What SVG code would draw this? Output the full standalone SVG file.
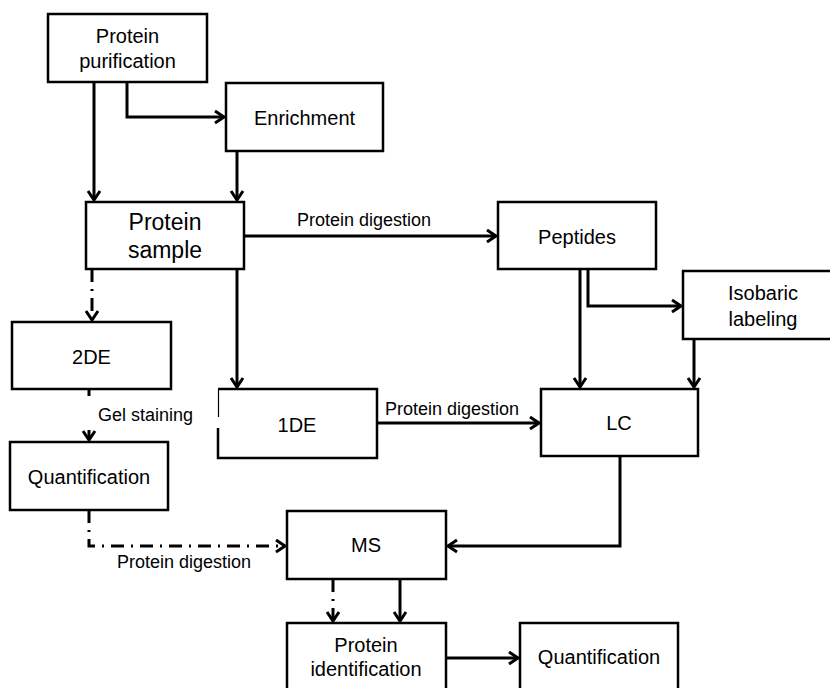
<svg xmlns="http://www.w3.org/2000/svg" width="830" height="688" viewBox="0 0 830 688">
<style>
.box{fill:#fff;stroke:#000;stroke-width:2.5}
.edge{fill:none;stroke:#000;stroke-width:2.5}
.ln{fill:none;stroke:#000;stroke-width:3}
.dd{fill:none;stroke:#000;stroke-width:3;stroke-dasharray:13 7 2 7}
.t{font-family:"Liberation Sans",Arial,sans-serif;font-size:20px;fill:#000;text-anchor:middle}
.big{font-size:23px}
.lbl{font-family:"Liberation Sans",Arial,sans-serif;font-size:18px;fill:#000}
</style>
<defs>
<marker id="arr" viewBox="-11 -8 13 16" markerWidth="13" markerHeight="16" refX="0" refY="0" orient="auto" markerUnits="userSpaceOnUse">
<path d="M-9,-6 L0,0 L-9,6" fill="none" stroke="#000" stroke-width="3"/>
</marker>
</defs>
<rect width="830" height="688" fill="#fff"/>
<g id="connectors">
<path class="ln" d="M94,82 V200" marker-end="url(#arr)"/>
<path class="ln" d="M127,82 V117 H224" marker-end="url(#arr)"/>
<path class="ln" d="M237,151 V200" marker-end="url(#arr)"/>
<path class="ln" d="M244,236 H496" marker-end="url(#arr)"/>
<path class="ln" d="M237,269 V387" marker-end="url(#arr)"/>
<path class="dd" d="M92,269 V320" marker-end="url(#arr)"/>
<path class="ln" d="M89,389 V396"/>
<path class="ln" d="M89,430 V440" marker-end="url(#arr)"/>
<path class="ln" d="M580,269 V387" marker-end="url(#arr)"/>
<path class="ln" d="M588,269 V306 H681" marker-end="url(#arr)"/>
<path class="ln" d="M694,339 V387" marker-end="url(#arr)"/>
<path class="ln" d="M377,423 H539" marker-end="url(#arr)"/>
<path class="ln" d="M620,456 V546 H448" marker-end="url(#arr)"/>
<path class="dd" d="M89,510 V546 H285" marker-end="url(#arr)"/>
<path class="ln" d="M400,579 V621" marker-end="url(#arr)"/>
<path class="dd" d="M333,579 V621" marker-end="url(#arr)"/>
<path class="ln" d="M446,658 H518" marker-end="url(#arr)"/>
<text class="lbl" x="297" y="226">Protein digestion</text>
<text class="lbl" x="385" y="415">Protein digestion</text>
<text class="lbl" x="98" y="421">Gel staining</text>
<text class="lbl" x="117" y="568">Protein digestion</text>
</g>
<g id="protein-purification">
<rect class="box" x="48" y="14" width="159" height="68"/>
<text class="t" x="127.5" y="43">Protein</text>
<text class="t" x="127.5" y="68">purification</text>
</g>
<g id="enrichment">
<rect class="box" x="226" y="83" width="157" height="68"/>
<text class="t" x="304.5" y="125">Enrichment</text>
</g>
<g id="protein-sample">
<rect class="box" x="86" y="202" width="158" height="67"/>
<text class="t big" x="165" y="230">Protein</text>
<text class="t big" x="165" y="258">sample</text>
</g>
<g id="peptides">
<rect class="box" x="498" y="202" width="158" height="67"/>
<text class="t" x="577" y="244">Peptides</text>
</g>
<g id="isobaric-labeling">
<rect class="box" x="683" y="271" width="160" height="68"/>
<text class="t" x="763" y="300">Isobaric</text>
<text class="t" x="763" y="326">labeling</text>
</g>
<g id="twoDE">
<rect class="box" x="12" y="322" width="159" height="67"/>
<text class="t" x="91.5" y="364">2DE</text>
</g>
<g id="oneDE">
<path class="edge" d="M218,389 H377 V458 H218 V428"/>
<path fill="none" stroke="#000" stroke-width="1.2" d="M218.5,389 V417"/>
<text class="t" x="297" y="432">1DE</text>
</g>
<g id="lc">
<rect class="box" x="541" y="389" width="157" height="67"/>
<text class="t" x="619" y="430">LC</text>
</g>
<g id="quantification-left">
<rect class="box" x="10" y="442" width="158" height="68"/>
<text class="t" x="89" y="484">Quantification</text>
</g>
<g id="ms">
<rect class="box" x="287" y="511" width="159" height="68"/>
<text class="t" x="366" y="552">MS</text>
</g>
<g id="protein-identification">
<rect class="box" x="287" y="623" width="159" height="70"/>
<text class="t" x="366" y="652">Protein</text>
<text class="t" x="366" y="676">identification</text>
</g>
<g id="quantification-right">
<rect class="box" x="520" y="623" width="158" height="70"/>
<text class="t" x="599" y="664">Quantification</text>
</g>
</svg>
